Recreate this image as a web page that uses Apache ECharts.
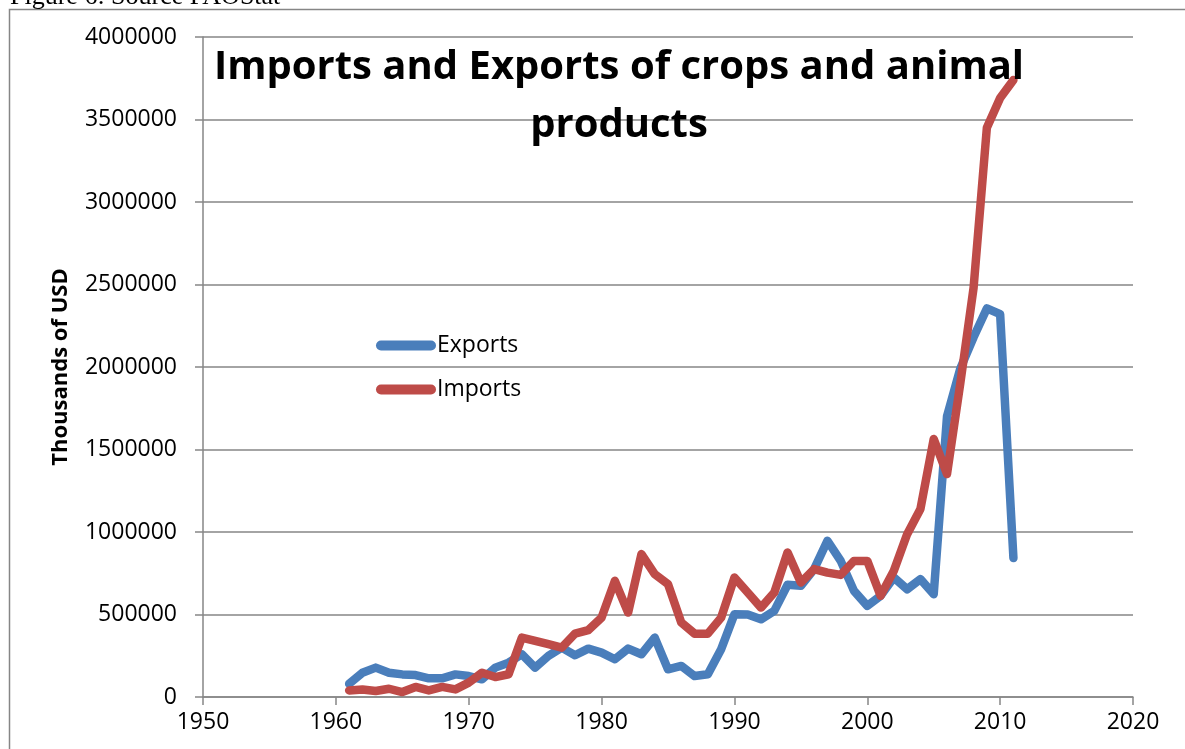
<!DOCTYPE html>
<html>
<head>
<meta charset="utf-8">
<script src="https://cdn.jsdelivr.net/npm/echarts@6/dist/echarts.min.js"></script>
<style>
  html, body { margin: 0; padding: 0; background: #fff; }
  #chart { width: 1185px; height: 749px; }
</style>
</head>
<body>
<div id="chart"></div>
<script>
// Trade in crops and animal products, thousands of USD, 1961-2011
const years = [1961,1962,1963,1964,1965,1966,1967,1968,1969,1970,
  1971,1972,1973,1974,1975,1976,1977,1978,1979,1980,
  1981,1982,1983,1984,1985,1986,1987,1988,1989,1990,
  1991,1992,1993,1994,1995,1996,1997,1998,1999,2000,
  2001,2002,2003,2004,2005,2006,2007,2008,2009,2010,2011];

const exportsValues = [80000,147000,178000,147000,137000,133000,113000,113000,137000,127000,
  107000,178000,208000,259000,178000,249000,299000,253000,293000,269000,
  229000,293000,259000,360000,168000,188000,127000,138000,290000,502000,
  500000,471000,522000,680000,674000,775000,947000,825000,643000,552000,
  613000,724000,653000,714000,623000,1700000,1990000,2180000,2355000,2320000,842000];

const importsValues = [40000,46000,36000,50000,30000,61000,40000,61000,46000,87000,
  147000,121000,138000,360000,340000,320000,299000,384000,405000,481000,
  704000,512000,866000,745000,684000,451000,384000,384000,481000,724000,
  633000,542000,633000,876000,694000,775000,754000,740000,825000,825000,
  613000,765000,987000,1139000,1564000,1351000,1900000,2480000,3450000,3630000,3740000];

const xTicks = [1950,1960,1970,1980,1990,2000,2010,2020];
const yTicks = [0,500000,1000000,1500000,2000000,2500000,3000000,3500000,4000000];

const seriesNames = ['Exports', 'Imports'];
const titleText = 'Imports and Exports of crops and animal\nproducts';
const yAxisTitle = 'Thousands of USD';
const captionText = 'Figure 6: Source FAOStat';

const pairs = vals => years.map((y, i) => [y, vals[i]]);

const chart = echarts.init(document.getElementById('chart'), null, { renderer: 'canvas' });
const gray = '#868686';
const font = '"Open Sans", sans-serif';
// capsule-shaped legend marker, 60 x 10
const pill = 'path://M5,0 L55,0 A5,5 0 0 1 55,10 L5,10 A5,5 0 0 1 5,0 Z';

chart.setOption({
  animation: false,
  backgroundColor: '#fff',
  title: {
    text: titleText,
    left: 614,
    top: 34,
    textAlign: 'center',
    textStyle: {
      fontFamily: font,
      fontWeight: 'bold',
      fontSize: 40,
      lineHeight: 58,
      color: '#000'
    }
  },
  legend: {
    orient: 'vertical',
    left: 371,
    top: 329,
    itemWidth: 60,
    itemHeight: 10,
    itemGap: 21,
    data: [
      { name: seriesNames[0], icon: pill },
      { name: seriesNames[1], icon: pill }
    ],
    textStyle: { fontFamily: font, fontSize: 23, color: '#000', padding: [0, 0, 0, -4] }
  },
  grid: { left: 203, right: 52, top: 37, bottom: 52, containLabel: false },
  xAxis: {
    type: 'value',
    min: xTicks[0],
    max: xTicks[xTicks.length - 1],
    interval: 10,
    axisLine: { show: true, lineStyle: { color: gray, width: 1.5 } },
    axisTick: { show: true, inside: false, length: 8, lineStyle: { color: gray, width: 1.5 } },
    splitLine: { show: false },
    axisLabel: {
      margin: 14,
      fontFamily: font,
      fontSize: 23,
      color: '#000',
      formatter: v => String(v)
    }
  },
  yAxis: {
    type: 'value',
    min: yTicks[0],
    max: yTicks[yTicks.length - 1],
    interval: 500000,
    name: yAxisTitle,
    nameLocation: 'middle',
    nameGap: 131,
    nameTextStyle: { fontFamily: font, fontWeight: 'bold', fontSize: 22, color: '#000' },
    axisLine: { show: true, lineStyle: { color: gray, width: 1.5 } },
    axisTick: { show: true, inside: false, length: 8, lineStyle: { color: gray, width: 1.5 } },
    splitLine: { show: true, lineStyle: { color: gray, width: 1.5 } },
    axisLabel: {
      margin: 26,
      fontFamily: font,
      fontSize: 23,
      color: '#000',
      formatter: v => String(v)
    }
  },
  graphic: [
    {
      type: 'rect',
      silent: true,
      shape: { x: 9.5, y: 9.5, width: 1300, height: 900 },
      style: { fill: 'none', stroke: gray, lineWidth: 1.5 }
    },
    {
      type: 'text',
      silent: true,
      x: 10,
      y: -16,
      style: {
        text: captionText,
        font: '26px "Liberation Serif", serif',
        fill: '#000',
        verticalAlign: 'top'
      }
    }
  ],
  series: [
    {
      name: seriesNames[0],
      type: 'line',
      data: pairs(exportsValues),
      showSymbol: false,
      symbol: 'none',
      color: '#4a7ebb',
      lineStyle: { width: 8.5, color: '#4a7ebb', cap: 'round', join: 'round' },
      z: 2
    },
    {
      name: seriesNames[1],
      type: 'line',
      data: pairs(importsValues),
      showSymbol: false,
      symbol: 'none',
      color: '#be4b48',
      lineStyle: { width: 8.5, color: '#be4b48', cap: 'round', join: 'round' },
      z: 3
    }
  ]
});
</script>
</body>
</html>
